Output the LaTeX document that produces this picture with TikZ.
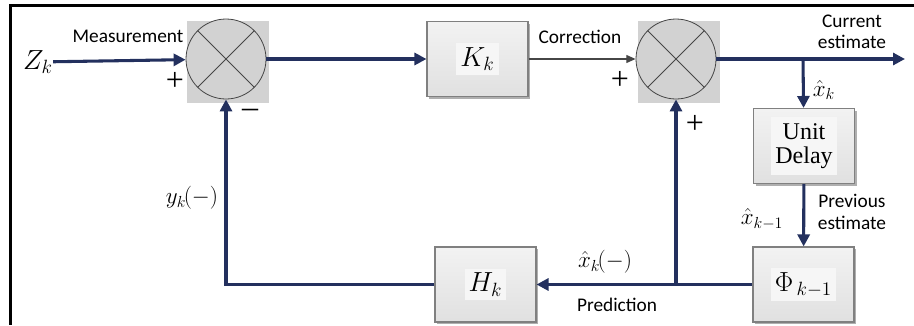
\documentclass[tikz,border=0pt]{standalone}
\usepackage{fontspec}
\setmainfont{Carlito}
\newfontfamily\tnr{Liberation Serif}
\usetikzlibrary{arrows.meta,shadows}

\definecolor{navy}{RGB}{35,48,94}
\definecolor{sumgray}{RGB}{210,210,210}
\definecolor{sumline}{RGB}{70,70,70}
\definecolor{boxline}{RGB}{128,128,128}
\definecolor{shadowgray}{RGB}{175,175,175}
\definecolor{innerfill}{RGB}{246,246,246}
\newcommand{\pix}{0.75pt}
\newcommand{\inbox}[1]{\setlength{\fboxsep}{3pt}\colorbox{innerfill}{#1}}

\begin{document}
\begin{tikzpicture}[x=0.75pt,y=-0.75pt,
    sumsq/.style={fill=sumgray,minimum size=82*\pix,inner sep=0pt},
    summer/.style={circle,draw=sumline,fill=sumgray,line width=0.6pt,
        minimum size=80*\pix,inner sep=0pt,
        path picture={\draw[sumline,line width=0.6pt]
            (path picture bounding box.north west) -- (path picture bounding box.south east)
            (path picture bounding box.north east) -- (path picture bounding box.south west);}},
    block/.style={draw=boxline,line width=0.8pt,top color=white!95!black,bottom color=white!88!black,
        minimum width=101*\pix,minimum height=75*\pix,inner sep=0pt,
        drop shadow={shadow xshift=1.6pt,shadow yshift=-1.6pt,fill=shadowgray,opacity=1}},
    sig/.style={draw=navy,line width=2.3pt,-{Triangle[length=9pt,width=9pt]}},
    thin/.style={draw=sumline,line width=0.9pt,-{Triangle[length=7pt,width=6pt]}},
    lbl/.style={font=\fontsize{14.5}{16}\selectfont,align=center,inner sep=0pt},
    mth/.style={font=\fontsize{17}{19}\selectfont,inner sep=0pt},
    sgn/.style={font=\tnr\fontsize{24}{24}\selectfont,inner sep=0pt}]
    \useasboundingbox (0,0) rectangle (914,325);
    % frame
    \draw[line width=2.3pt] (914,5.5) -- (10.5,5.5) -- (10.5,325);
    % summing junctions
    \node[sumsq] (sq1) at (228,62) {};
    \node[summer] (sum1) at (226,59) {};
    \node[sumsq] (sq2) at (679,62) {};
    \node[summer] (sum2) at (676,59) {};
    % blocks
    \node[block] (K) at (477.5,59) {\inbox{\fontsize{20}{22}\selectfont$K_k$}};
    \node[block] (delay) at (804,146) {\inbox{\tnr\fontsize{18}{20}\selectfont\begin{tabular}{@{}c@{}}Unit\\[-2pt]Delay\end{tabular}}};
    \node[block] (phi) at (803.5,284.5) {\inbox{\fontsize{21}{23}\selectfont$\Phi_{\,k-1}$}};
    \node[block] (H) at (485.5,284.5) {\inbox{\fontsize{21}{23}\selectfont$H_k$}};
    % signals
    \node[mth,font=\fontsize{20}{22}\selectfont] (Zk) at (38,62) {$Z_k$};
    \coordinate (out) at (905,59);
    \coordinate (br) at (803,59);
    \coordinate (jn) at (676,284.5);
    \coordinate (cr) at (226,284.5);
    \draw[sig] (Zk) -- (sum1);
    \draw[sig] (sum1) -- (K);
    \draw[thin] (K) -- (sum2);
    \draw[sig] (sum2) -- (out);
    \draw[sig] (br) -- (delay);
    \draw[sig] (delay) -- (phi);
    \draw[sig] (phi) -- (H);
    \draw[sig] (jn) -- (sum2);
    \draw[sig] (H) -- (cr) -- (sum1);
    % labels
    \node[lbl] (meas) at (128,36) {Measurement};
    \node[lbl] (corr) at (580,37) {Correction};
    \node[lbl] (cur) at (852,32) {Current\\estimate};
    \node[lbl] (prev) at (852,212) {Previous\\estimate};
    \node[lbl] (pred) at (617,305) {Prediction};
    \node[sgn] (p1) at (175,81) {+};
    \node[sgn] (m1) at (250,113) {\textendash};
    \node[sgn] (p2) at (620,80) {+};
    \node[sgn] (p3) at (695,124) {+};
    \node[mth] (xk) at (824,90) {$\hat{x}_k$};
    \node[mth] (xk1) at (762,219) {$\hat{x}_{k-1}$};
    \node[mth] (xkm) at (605,262) {$\hat{x}_k\mkern-2mu(-)$};
    \node[mth] (yk) at (192,198) {$y_k\mkern-2mu(-)$};
\end{tikzpicture}
\end{document}
